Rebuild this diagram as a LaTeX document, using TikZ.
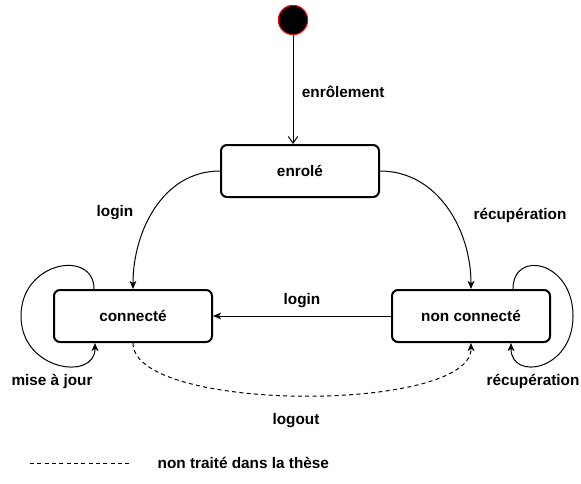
\documentclass[tikz,border=0pt]{standalone}
\usepackage{fontspec}
\setmainfont{Liberation Sans}
\usetikzlibrary{arrows.meta, calc}

\begin{document}
\begin{tikzpicture}[x=0.75pt, y=-0.75pt, font=\fontsize{11.5}{13}\selectfont\bfseries,
    state/.style={draw, line width=1.5pt, rounded corners=4.5pt, minimum width=118.5pt, minimum height=39pt},
    arr/.style={-{Stealth[length=6pt, width=5pt, inset=1.5pt]}, line width=0.75pt},
    openarr/.style={-{Straight Barb[length=5pt, width=7pt]}, line width=0.75pt},
    notdone/.style={dash pattern=on 3pt off 2.5pt}]

\useasboundingbox (0,0) rectangle (581,483);

% States
\node (init) at (293,20) [circle, fill=black, draw=red, line width=0.75pt, minimum size=22pt, inner sep=0pt] {};
\node (enr) at (300,171) [state] {enrolé};
\node (con) at (133,316) [state] {connecté};
\node (ncon) at (471,316) [state] {non connecté};

% Transitions
\draw [openarr] (init) -- (init |- enr.north) node [pos=0.52, right=3pt] {enrôlement};
\draw [arr] (enr.west) to [out=180, in=90] (con.north);
\node (lgin1) at (115,213) {login};
\draw [arr] (enr.east) to [out=0, in=90] (ncon.north);
\node (rec1) at (520,215) {récupération};
\draw [arr] (ncon.west) -- (con.east) node [midway, above=2.5pt] {login};
\draw [arr, notdone] (con.south) .. controls ($(con.south)+(0,70)$) and ($(ncon.south)+(0,70)$) .. (ncon.south);
\node (lout) at (296,421) {logout};

% Self loops
\draw [arr] ($(con.north west)+(41,0)$) .. controls +(0,-40) and +(0,-55) .. ($(con.west)+(-32,0)$)
    .. controls +(0,55) and +(0,38) .. ($(con.south west)+(42,0)$);
\node (maj) at (52,381) {mise à jour};
\draw [arr] ($(ncon.north east)+(-38,0)$) .. controls +(0,-40) and +(0,-55) .. ($(ncon.east)+(22,0)$)
    .. controls +(0,55) and +(0,38) .. ($(ncon.south east)+(-40,0)$);
\node (rec2) at (533,381) {récupération};

% Legend
\coordinate (lgA) at (30,463);
\coordinate (lgB) at (131,463);
\draw [notdone, line width=0.75pt] (lgA) -- (lgB);
\node (lgtext) at (153,463) [anchor=west] {non traité dans la thèse};

\end{tikzpicture}
\end{document}
